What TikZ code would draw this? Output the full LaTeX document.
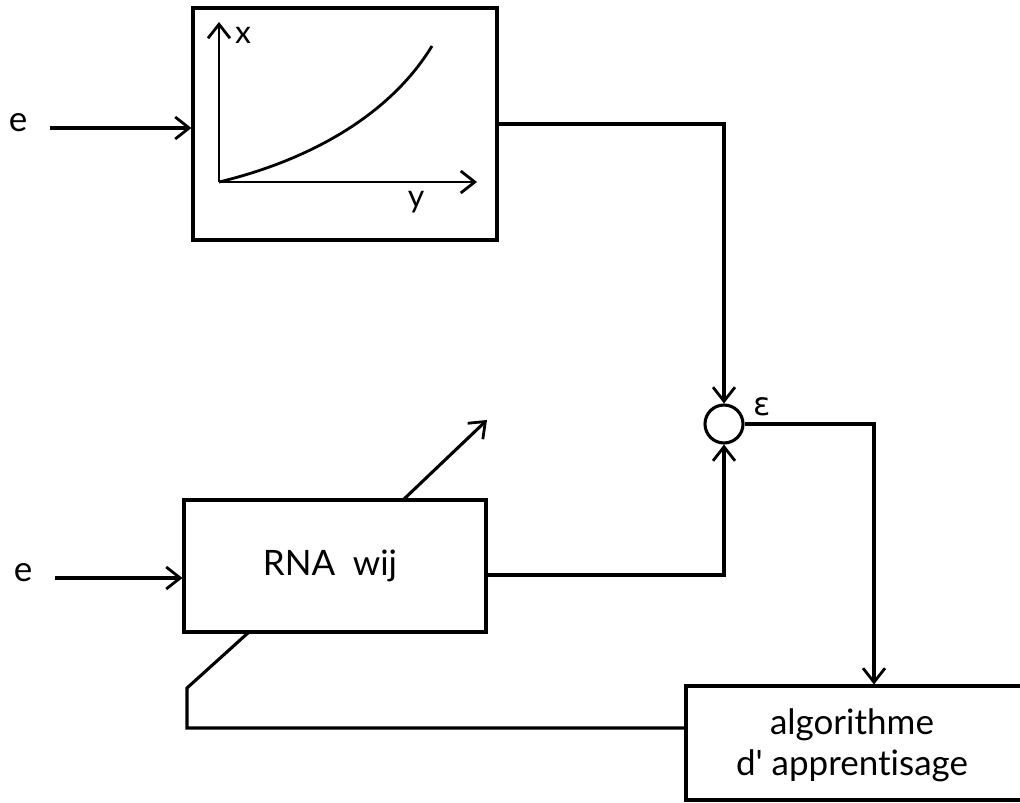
\documentclass[tikz,border=0pt]{standalone}
\usepackage{fontspec}
\setmainfont{Lato}[Ligatures={NoCommon,NoContextual}]
\newfontfamily\dejavu{DejaVu Sans}
\usetikzlibrary{arrows.meta,calc}
\begin{document}
\begin{tikzpicture}[x=1pt,y=-1pt,
  line width=3.1pt,
  box/.style={draw,rectangle,inner sep=0pt,line width=3.1pt},
  arr/.style={-{Straight Barb[length=14pt,width=22pt,line width=2.8pt]}},
  lbl/.style={font=\fontsize{35}{42}\selectfont,inner sep=0pt},
]
\useasboundingbox (0,0) rectangle (1020,803);
\fill[white] (0,0) rectangle (1020,803);
% blocks
\node[box,minimum width=304pt,minimum height=232pt] (top) at (345,124) {};
\node[box,minimum width=302pt,minimum height=132pt] (rna) at (335,566) {};
\node[lbl] (rnat) at (330,566) {RNA\hspace{0.5em}wij};
\node[box,minimum width=340pt,minimum height=114pt] (algo) at (856,743) {};
\node[lbl,align=center] (algot) at (852,745) {algorithme\\[-1pt]d\textquotesingle{} apprentisage};
\node[draw,circle,minimum size=38pt,inner sep=0pt,line width=3.1pt] (sum) at (724,424) {};
\node[inner sep=0pt,font=\dejavu\fontsize{32}{36}\selectfont] (eps) at (762,407) {ɛ};
% inputs
\node[lbl] (e1) at (18,123) {e};
\node[lbl] (e2) at (23,573) {e};
\draw[arr] (50,128) -- (top.west |- 0,128);
\draw[arr] (55,578) -- (rna.west |- 0,578);
% plot inside top box
\coordinate (o) at (219,182);
\coordinate (ytop) at (219,22);
\coordinate (xend) at (477,182);
\draw[arr,line width=2.8pt] (o) -- (ytop);
\draw[arr,line width=2.8pt] (o) -- (xend);
\node[lbl,font=\fontsize{32}{36}\selectfont] (xl) at (243,35) {x};
\node[lbl,font=\fontsize{32}{36}\selectfont] (yl) at (416,202) {y};
\draw[line width=2.8pt] (o) .. controls (310,160) and (390,115) .. (432,46);
% connections
\draw[arr] (top.east) -| (sum.north);
\coordinate (rout) at ($(rna.east)+(0,9)$);
\draw[arr] (rout) -| (sum.south);
\draw[arr] (sum.east) -| (algo.north -| 874,0);
\coordinate (dstart) at (403,500);
\coordinate (dend) at (487,420);
\draw[arr] (dstart) -- (dend);
\coordinate (fb1) at (187,728);
\coordinate (fb2) at (187,688);
\coordinate (fb3) at (249,632);
\draw (algo.west |- 0,728) -- (fb1) -- (fb2) -- (fb3);
\end{tikzpicture}
\end{document}
